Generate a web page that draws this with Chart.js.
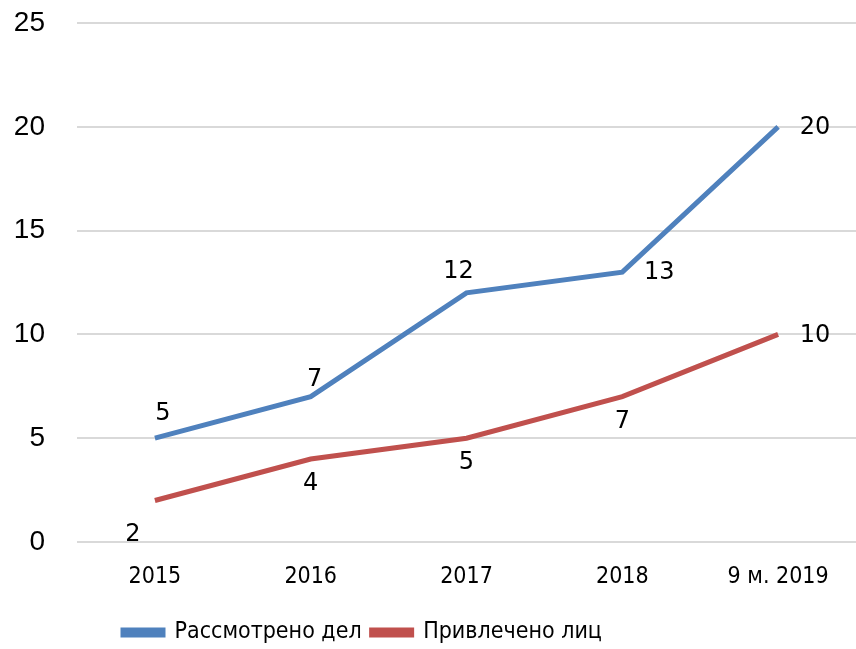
<!DOCTYPE html>
<html>
<head>
<meta charset="utf-8">
<script src="https://cdn.jsdelivr.net/npm/chart.js@4"></script>
<style>
  html, body { margin: 0; padding: 0; background: #fff; }
  #wrap { width: 856px; height: 649px; }
</style>
</head>
<body>
<div id="wrap"><canvas id="chart"></canvas></div>
<script>
const years = ['2015', '2016', '2017', '2018', '9 м. 2019'];
const casesReviewed = [5, 7, 12, 13, 20];
const peopleInvolved = [2, 4, 5, 7, 10];
const yTicks = [0, 5, 10, 15, 20, 25];

// where each value label sits relative to its point
const casesLabelPlace = ['aboveRight', 'above', 'aboveLeft', 'right', 'right'];
const peopleLabelPlace = ['belowLeft', 'below', 'below', 'below', 'right'];

const placeShift = {
  above: [4, -17],
  aboveRight: [8, -24],
  aboveLeft: [-8, -21],
  below: [0, 25],
  belowLeft: [-22, 34],
  right: [37, 1],
};

const condensed = '"Liberation Sans Narrow", "DejaVu Sans Condensed", sans-serif';

const valueLabels = {
  id: 'valueLabels',
  afterDatasetsDraw(chart) {
    const ctx = chart.ctx;
    ctx.save();
    ctx.font = '24px "DejaVu Sans", sans-serif';
    ctx.fillStyle = '#000';
    ctx.textAlign = 'center';
    ctx.textBaseline = 'middle';
    chart.data.datasets.forEach((ds, i) => {
      const meta = chart.getDatasetMeta(i);
      meta.data.forEach((pt, j) => {
        const shift = placeShift[ds.labelPlace[j]];
        ctx.fillText(String(ds.data[j]), pt.x + shift[0], pt.y + shift[1]);
      });
    });
    ctx.restore();
  }
};

// y tick labels drawn by hand so their gap from the grid does not push the plot down
const yLabels = {
  id: 'yLabels',
  afterDraw(chart) {
    const ctx = chart.ctx;
    const y = chart.scales.y;
    ctx.save();
    ctx.font = '28px "Liberation Sans", sans-serif';
    ctx.fillStyle = '#000';
    ctx.textAlign = 'right';
    ctx.textBaseline = 'middle';
    yTicks.forEach(v => ctx.fillText(String(v), 45, y.getPixelForValue(v)));
    ctx.restore();
  }
};

// the legend sits left of centre and a little lower
const legendShift = {
  id: 'legendShift',
  beforeDraw(chart) {
    const lg = chart.legend;
    lg.left = 113;
    lg.top += 5;
  }
};

new Chart(document.getElementById('chart'), {
  type: 'line',
  data: {
    labels: years,
    datasets: [
      {
        label: 'Рассмотрено дел',
        data: casesReviewed,
        labelPlace: casesLabelPlace,
        borderColor: '#4F81BD',
        backgroundColor: '#4F81BD',
        borderWidth: 5,
        pointRadius: 0,
        tension: 0,
      },
      {
        label: 'Привлечено лиц',
        data: peopleInvolved,
        labelPlace: peopleLabelPlace,
        borderColor: '#C0504D',
        backgroundColor: '#C0504D',
        borderWidth: 5,
        pointRadius: 0,
        tension: 0,
      },
    ],
  },
  options: {
    responsive: true,
    maintainAspectRatio: false,
    animation: false,
    layout: { padding: { top: 23, right: 0, left: 0, bottom: 0 } },
    plugins: {
      tooltip: { enabled: false },
      legend: {
        position: 'bottom',
        align: 'start',
        labels: {
          color: '#000',
          font: { family: condensed, size: 23 },
          boxWidth: 40,
          boxHeight: 5,
          padding: 10,
        },
      },
    },
    scales: {
      x: {
        offset: true,
        grid: { display: false },
        border: { display: false },
        ticks: {
          color: '#000',
          font: { family: condensed, size: 23 },
          padding: 13,
          maxRotation: 0,
        },
        afterFit(scale) { scale.height = 64; },
      },
      y: {
        min: 0,
        max: 25,
        afterBuildTicks(scale) { scale.ticks = yTicks.map(v => ({ value: v })); },
        grid: { color: '#d9d9d9', lineWidth: 2, drawTicks: false },
        border: { display: false },
        ticks: { display: false, padding: 0 },
        afterFit(scale) { scale.width = 77; },
      },
    },
  },
  plugins: [valueLabels, yLabels, legendShift],
});
</script>
</body>
</html>
